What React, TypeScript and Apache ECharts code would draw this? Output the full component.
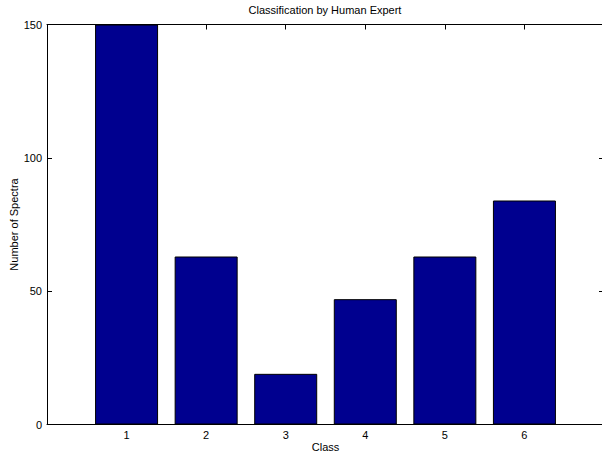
import React, { useEffect, useRef } from "react";
import * as echarts from "echarts";

const classes = [1, 2, 3, 4, 5, 6];
const counts = [150, 63, 19, 47, 63, 84];
const yTicks = [0, 50, 100, 150];

export default function App() {
  const ref = useRef<HTMLDivElement>(null);
  useEffect(() => {
    if (!ref.current) return;
    const chart = echarts.init(ref.current, null, { renderer: "svg" });
    const font = "Liberation Sans, Arial, Helvetica, sans-serif";
    const axisLine = { show: true, onZero: false, lineStyle: { color: "#000", width: 1 } };
    const tick = { show: true, inside: true, length: 5, lineStyle: { color: "#000" } };
    chart.setOption({
      animation: false,
      backgroundColor: "#fff",
      title: {
        text: "Classification by Human Expert",
        left: 325,
        top: 4,
        padding: 0,
        textAlign: "center",
        textStyle: { fontFamily: font, fontSize: 11, fontWeight: "normal", color: "#000" },
      },
      grid: {
        left: 47,
        top: 24.5,
        width: 557,
        height: 400,
        containLabel: false,
        outerBoundsMode: "none",
      },
      xAxis: [
        {
          type: "value",
          min: 0,
          max: 7,
          interval: 1,
          position: "bottom",
          name: "Class",
          nameLocation: "middle",
          nameGap: 17,
          nameMoveOverlap: false,
          nameTextStyle: { fontFamily: font, fontSize: 11, color: "#000" },
          axisLine,
          axisTick: tick,
          splitLine: { show: false },
          axisLabel: {
            fontFamily: font,
            fontSize: 11,
            color: "#000",
            margin: 5,
            formatter: (v: number) => (classes.indexOf(v) >= 0 ? String(v) : ""),
          },
        },
        {
          type: "value",
          min: 0,
          max: 7,
          interval: 1,
          position: "top",
          axisLine,
          axisTick: tick,
          splitLine: { show: false },
          axisLabel: { show: false },
        },
      ],
      yAxis: [
        {
          type: "value",
          min: 0,
          max: 150,
          interval: 50,
          position: "left",
          name: "Number of Spectra",
          nameLocation: "middle",
          nameGap: 28,
          nameMoveOverlap: false,
          nameTextStyle: { fontFamily: font, fontSize: 11, color: "#000" },
          axisLine,
          axisTick: tick,
          splitLine: { show: false },
          axisLabel: {
            fontFamily: font,
            fontSize: 11,
            color: "#000",
            margin: 5,
            formatter: (v: number) => (yTicks.indexOf(v) >= 0 ? String(v) : ""),
          },
        },
        {
          type: "value",
          min: 0,
          max: 150,
          interval: 50,
          position: "right",
          axisLine,
          axisTick: tick,
          splitLine: { show: false },
          axisLabel: { show: false },
        },
      ],
      series: [
        {
          type: "bar",
          xAxisIndex: 0,
          yAxisIndex: 0,
          barWidth: 63,
          data: classes.map((c, i) => [c, counts[i]]),
          itemStyle: { color: "#00008F", borderColor: "#000", borderWidth: 1 },
        },
      ],
    });
    return () => chart.dispose();
  }, []);
  return (
    <div
      ref={ref}
      style={{ position: "fixed", left: 0, top: 0, width: 602, height: 454, background: "#fff" }}
    />
  );
}
